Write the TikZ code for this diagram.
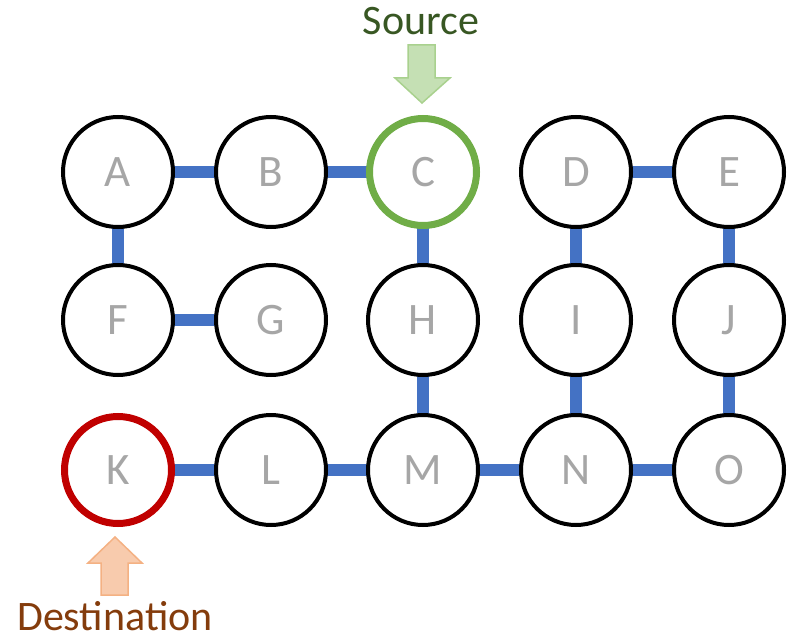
\documentclass[tikz,border=0pt]{standalone}
\usepackage{fontspec}
\setmainfont{Carlito}
\usetikzlibrary{backgrounds}
\definecolor{linkblue}{HTML}{4472C4}
\definecolor{lettergray}{HTML}{A6A6A6}
\definecolor{srcgreen}{HTML}{70AD47}
\definecolor{srctext}{HTML}{385723}
\definecolor{srcfill}{HTML}{C5E0B4}
\definecolor{srcedge}{HTML}{A9D18E}
\definecolor{dstred}{HTML}{C00000}
\definecolor{dsttext}{HTML}{843C0C}
\definecolor{dstfill}{HTML}{F8CBAD}
\definecolor{dstedge}{HTML}{F4B183}
\tikzset{
  vertex/.style={circle, draw=black, line width=4pt, fill=white,
    minimum size=110pt, inner sep=0pt, text=lettergray,
    font=\fontsize{45}{45}\selectfont},
  link/.style={linkblue, line width=12pt},
  caption/.style={font=\fontsize{42}{42}\selectfont, anchor=base, inner sep=0pt},
  marker/.style={line width=1.5pt, line join=miter}
}
\begin{document}
\begin{tikzpicture}[x=1pt,y=-1pt]
\useasboundingbox (0,0) rectangle (794,639);
% grid of vertices
\node[vertex] (A) at (118,172) {A};
\node[vertex] (B) at (271,172) {B};
\node[vertex, draw=srcgreen, line width=7pt, minimum size=107pt] (C) at (423,172) {C};
\node[vertex] (D) at (576,172) {D};
\node[vertex] (E) at (729,172) {E};
\node[vertex] (F) at (118,320) {F};
\node[vertex] (G) at (271,320) {G};
\node[vertex] (H) at (423,320) {H};
\node[vertex] (I) at (576,320) {I};
\node[vertex] (J) at (729,320) {J};
\node[vertex, draw=dstred, line width=7pt, minimum size=107pt] (K) at (118,470) {K};
\node[vertex] (L) at (271,470) {L};
\node[vertex] (M) at (423,470) {M};
\node[vertex] (N) at (576,470) {N};
\node[vertex] (O) at (729,470) {O};
% links behind the vertices
\begin{scope}[on background layer]
\foreach \u/\v in {A/B,B/C,A/F,F/G,C/H,D/E,D/I,E/J,H/M,I/N,J/O,K/L,L/M,M/N,N/O}
  \draw[link] (\u.center) -- (\v.center);
\end{scope}
% source marker: label and downward block arrow
\node[caption, text=srctext] (srclabel) at (421,35) {Source};
\draw[marker, draw=srcedge, fill=srcfill]
  (408,45) -- (435,45) -- (435,78) -- (450,78) -- (422,103)
  -- (395,78) -- (408,78) -- cycle;
% destination marker: upward block arrow and label
\draw[marker, draw=dstedge, fill=dstfill]
  (101,595) -- (128,595) -- (128,563) -- (142,563) -- (115,537)
  -- (88,563) -- (101,563) -- cycle;
\node[caption, text=dsttext] (dstlabel) at (115,630) {Destination};
\end{tikzpicture}
\end{document}
